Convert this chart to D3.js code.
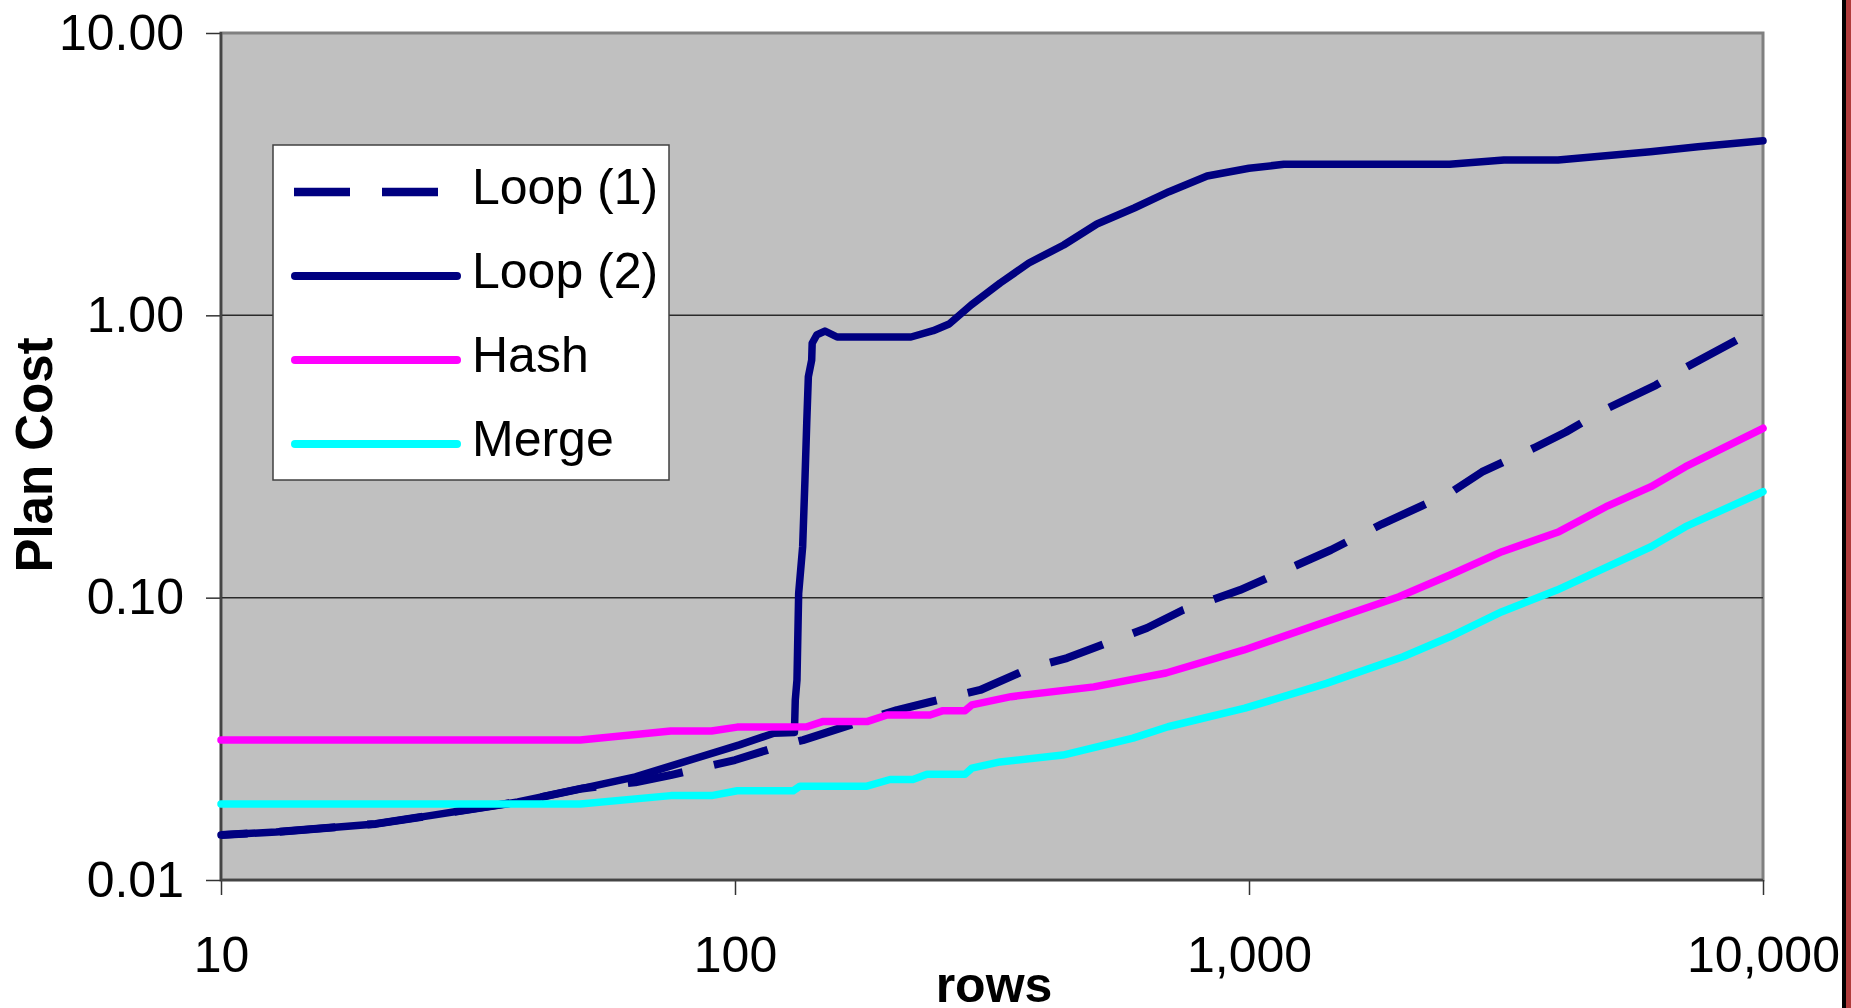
<!DOCTYPE html>
<html>
<head>
<meta charset="utf-8">
<script src="https://cdn.jsdelivr.net/npm/d3@7"></script>
<style>
  html, body { margin: 0; padding: 0; background: #ffffff; overflow: hidden; }
  svg { display: block; }
  text { font-family: "Liberation Sans", Arial, Helvetica, sans-serif; fill: #000; }
</style>
</head>
<body>
<svg id="chart" width="1851" height="1008"></svg>
<script>
// Axis ticks (log-log chart of plan cost vs. number of rows)
const xTickValues = [10, 100, 1000, 10000];
const yTickValues = [0.01, 0.1, 1, 10];
const gridValues = [0.1, 1];

const seriesNames = ["Loop (1)", "Loop (2)", "Hash", "Merge"];

// Nested loop, plan 1
const loop1Rows = [10, 12.8, 20, 25.5, 37.8, 50.5, 64, 75, 100, 124.5, 135.6, 206.6, 239.6, 300, 375, 442.5,
  633, 744, 960, 1240, 1443, 1814, 2460, 2840, 3585, 4137, 4906, 6192, 7051, 8902, 10000];
const loop1Cost = [0.01443, 0.0148, 0.0158, 0.0169, 0.0189, 0.0211, 0.0222, 0.02354, 0.0266, 0.0301, 0.0313, 0.0400, 0.0427, 0.0471, 0.0563, 0.0611,
  0.0781, 0.0904, 0.1064, 0.1305, 0.1475, 0.1823, 0.2348, 0.2787, 0.339, 0.3862, 0.4622, 0.5664, 0.6511, 0.818, 0.914];

// Nested loop, plan 2
const loop2Rows = [10, 12.8, 20, 25.5, 37.8, 50.5, 64, 102, 119, 130.5, 131, 132, 133, 135.4, 136.8, 137.9, 138.9, 141, 141.3, 144.2, 149.6, 158,
  220, 243, 261, 288, 328, 373, 436, 506, 598, 699, 829, 1000, 1169, 2457, 3133, 3992, 6040, 7472, 10000];
const loop2Cost = [0.01443, 0.0148, 0.0158, 0.0169, 0.0189, 0.0211, 0.0232, 0.0301, 0.0331, 0.0333, 0.0434, 0.0511, 0.1036, 0.1515, 0.261, 0.415, 0.606, 0.695, 0.796, 0.852, 0.880, 0.838,
  0.838, 0.882, 0.932, 1.088, 1.302, 1.532, 1.775, 2.106, 2.40, 2.741, 3.115, 3.317, 3.427, 3.427, 3.549, 3.549, 3.798, 3.956, 4.155];

// Hash join
const hashRows = [10, 50, 75, 90, 101, 138, 148, 180.6, 197.6, 239.6, 253.9, 280.3, 289, 344.4, 499, 689.5,
  978, 1387, 1958, 2460, 3105, 4010, 4950, 6055, 7067, 10000];
const hashCost = [0.0313, 0.0313, 0.0337, 0.0337, 0.0348, 0.0349, 0.0364, 0.0364, 0.0384, 0.0384, 0.0398, 0.0398, 0.0417, 0.0446, 0.0483, 0.0541,
  0.0653, 0.0813, 0.1008, 0.1203, 0.1455, 0.1713, 0.2100, 0.2472, 0.2910, 0.3981];

// Merge join
const mergeRows = [10, 50, 75, 90, 101, 129.7, 133.8, 180.6, 200.3, 221.9, 236.4, 280.3, 289, 327.7, 434.6, 594.8,
  695.7, 982, 1415, 1994, 2460, 3105, 3973, 4906, 6055, 7067, 10000];
const mergeCost = [0.0186, 0.0186, 0.0199, 0.0199, 0.0207, 0.0207, 0.0215, 0.0215, 0.0227, 0.0227, 0.0237, 0.0237, 0.0249, 0.0262, 0.0277, 0.0318,
  0.0349, 0.0406, 0.0497, 0.0618, 0.0727, 0.0892, 0.1064, 0.127, 0.1515, 0.1784, 0.2373];

const series = [
  { name: seriesNames[0], rows: loop1Rows, cost: loop1Cost, color: "#000080", dash: "56,32", width: 8, cap: "butt" },
  { name: seriesNames[1], rows: loop2Rows, cost: loop2Cost, color: "#000080", dash: null, width: 7.5, cap: "round" },
  { name: seriesNames[2], rows: hashRows, cost: hashCost, color: "#FF00FF", dash: null, width: 7.5, cap: "round" },
  { name: seriesNames[3], rows: mergeRows, cost: mergeCost, color: "#00FFFF", dash: null, width: 7.5, cap: "round" }
];

const svg = d3.select("#chart");
const plot = { left: 221, right: 1763, top: 33, bottom: 880 };

const x = d3.scaleLog().domain([10, 10000]).range([plot.left, plot.right]);
const y = d3.scaleLog().domain([0.01, 10]).range([plot.bottom, plot.top]);

// Plot area
svg.append("rect")
  .attr("x", plot.left).attr("y", plot.top)
  .attr("width", plot.right - plot.left).attr("height", plot.bottom - plot.top)
  .attr("fill", "#C0C0C0").attr("stroke", "#808080").attr("stroke-width", 3);

// Horizontal gridlines
svg.append("g").selectAll("line").data(gridValues).join("line")
  .attr("x1", plot.left).attr("x2", plot.right)
  .attr("y1", d => y(d)).attr("y2", d => y(d))
  .attr("stroke", "#2a2a2a").attr("stroke-width", 1.5);

// Axes
const yAxis = d3.axisLeft(y).tickValues(yTickValues).tickFormat(d3.format(".2f")).tickSize(15).tickPadding(22);
const xAxis = d3.axisBottom(x).tickValues(xTickValues).tickFormat(d3.format(",")).tickSize(15).tickPadding(41);

const gy = svg.append("g").attr("transform", `translate(${plot.left},0)`).call(yAxis);
const gx = svg.append("g").attr("transform", `translate(0,${plot.bottom})`).call(xAxis);
[gx, gy].forEach(g => {
  g.select(".domain").remove();
  g.selectAll(".tick line").attr("stroke", "#333").attr("stroke-width", 1.5);
  g.selectAll(".tick text")
    .style("font-family", "'Liberation Sans', Arial, sans-serif")
    .style("font-size", "50px").attr("fill", "#000");
});

// Axis lines
svg.append("line").attr("x1", plot.left).attr("x2", plot.left).attr("y1", plot.top - 1).attr("y2", plot.bottom)
  .attr("stroke", "#444").attr("stroke-width", 2.5);
svg.append("line").attr("x1", plot.left).attr("x2", plot.right).attr("y1", plot.bottom).attr("y2", plot.bottom)
  .attr("stroke", "#444").attr("stroke-width", 2.5);

// Series lines
const line = d3.line().x(d => x(d[0])).y(d => y(d[1]));
series.forEach(s => {
  const pts = s.rows.map((r, i) => [r, s.cost[i]]);
  const p = svg.append("path")
    .attr("d", line(pts))
    .attr("fill", "none")
    .attr("stroke", s.color)
    .attr("stroke-width", s.width)
    .attr("stroke-linecap", s.cap)
    .attr("stroke-linejoin", "round");
  if (s.dash) {
    // Align the dash pattern so that the line ends inside a gap
    const L = p.node().getTotalLength();
    const period = 88;
    const s0 = L - 86;
    const off = ((period - (s0 % period)) % period);
    p.attr("stroke-dasharray", s.dash).attr("stroke-dashoffset", off);
  }
});

// Legend
const legend = svg.append("g");
legend.append("rect").attr("x", 273).attr("y", 145).attr("width", 396).attr("height", 335)
  .attr("fill", "#fff").attr("stroke", "#404040").attr("stroke-width", 1.5);
const rowY = [192, 276, 360, 444];
series.forEach((s, i) => {
  const g = legend.append("g");
  if (s.dash) {
    g.append("line").attr("x1", 294).attr("x2", 460).attr("y1", rowY[i]).attr("y2", rowY[i])
      .attr("stroke", s.color).attr("stroke-width", 8.3).attr("stroke-dasharray", s.dash);
  } else {
    g.append("line").attr("x1", 295).attr("x2", 457).attr("y1", rowY[i]).attr("y2", rowY[i])
      .attr("stroke", s.color).attr("stroke-width", 8).attr("stroke-linecap", "round");
  }
  g.append("text").attr("x", 472).attr("y", rowY[i] + 12)
    .style("font-size", "50px").text(s.name);
});

// Axis titles
svg.append("text").attr("x", 994).attr("y", 1002).attr("text-anchor", "middle")
  .style("font-size", "50px").style("font-weight", "bold").text("rows");
svg.append("text").attr("transform", "translate(52,455) rotate(-90)").attr("text-anchor", "middle")
  .style("font-size", "51px").style("font-weight", "bold").text("Plan Cost");

// Window edge at the right
svg.append("rect").attr("x", 1842).attr("y", 0).attr("width", 4).attr("height", 1008).attr("fill", "#000");
svg.append("rect").attr("x", 1846).attr("y", 0).attr("width", 5).attr("height", 1008).attr("fill", "#B03C3C");
</script>
</body>
</html>
